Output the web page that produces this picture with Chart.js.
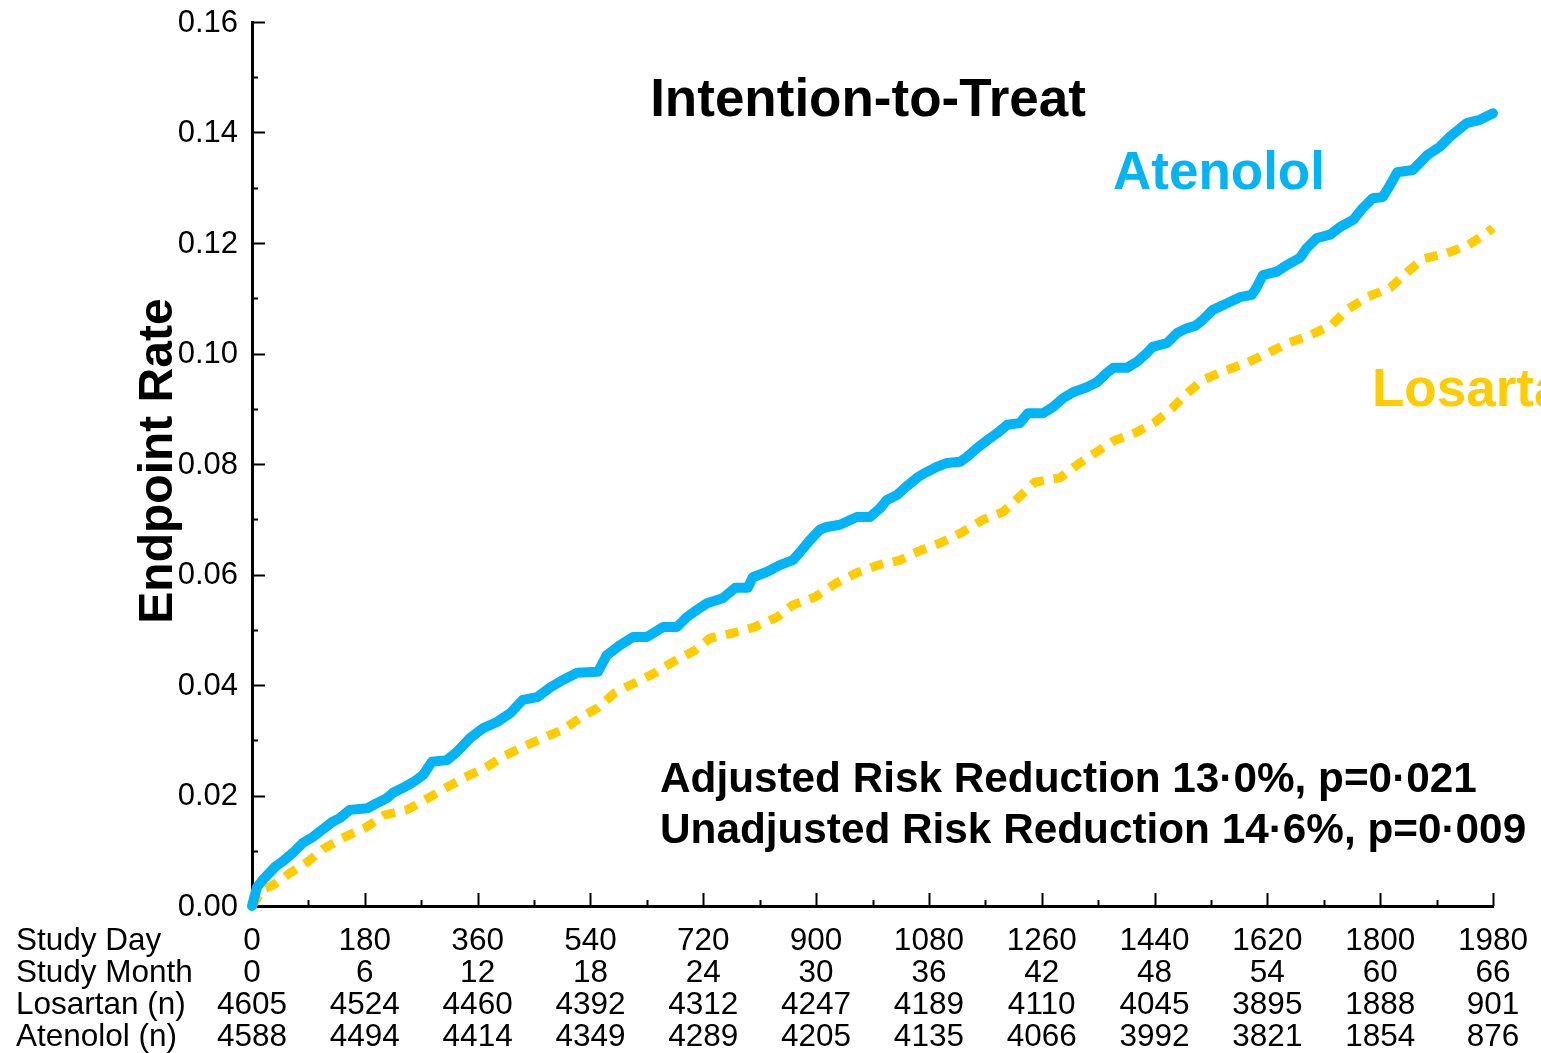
<!DOCTYPE html>
<html>
<head>
<meta charset="utf-8">
<title>Intention-to-Treat</title>
<script src="https://cdn.jsdelivr.net/npm/chart.js@4.4.1/dist/chart.umd.min.js"></script>
<style>
  html, body { margin: 0; padding: 0; background: #fff; }
  #wrap { width: 1541px; height: 1053px; }
</style>
</head>
<body>
<div id="wrap"><canvas id="kmChart" width="1541" height="1053"></canvas></div>
<script>
const FONT = "'Liberation Sans', Arial, Helvetica, sans-serif";
const BLUE = '#00b4f5';
const YELLOW = '#ffcc00';

// Kaplan-Meier curves (study day, cumulative endpoint rate)
const atenololDays = [0, 8, 17, 37, 48, 65, 81, 97, 112, 128, 140, 156, 184, 199, 215, 225, 241, 257, 273, 287,
  311, 327, 348, 369, 391, 412, 432, 455, 475, 496, 519, 552, 566, 587, 608, 630, 656, 678, 694, 710,
  726, 751, 771, 791, 799, 822, 842, 863, 877, 890, 906, 917, 938, 965, 986, 1002, 1013, 1029, 1045, 1061,
  1074, 1093, 1109, 1130, 1141, 1157, 1173, 1189, 1205, 1225, 1238, 1262, 1278, 1294, 1310, 1332, 1348, 1364, 1374, 1396,
  1412, 1428, 1437, 1460, 1476, 1490, 1505, 1517, 1533, 1556, 1576, 1595, 1603, 1613, 1635, 1651, 1672, 1683, 1699, 1720,
  1736, 1757, 1772, 1788, 1804, 1816, 1827, 1852, 1875, 1895, 1911, 1938, 1959, 1980];
const atenololRates = [0, 0.0034, 0.0047, 0.0071, 0.0080, 0.0096, 0.0114, 0.0125, 0.0138, 0.0152, 0.0159, 0.0174, 0.0177, 0.0186, 0.0195, 0.0205, 0.0214, 0.0224, 0.0237, 0.0261,
  0.0264, 0.0279, 0.0304, 0.0322, 0.0333, 0.0349, 0.0373, 0.0378, 0.0395, 0.0409, 0.0422, 0.0424, 0.0454, 0.0472, 0.0487, 0.0487, 0.0505, 0.0505, 0.0523, 0.0536,
  0.0548, 0.0557, 0.0576, 0.0576, 0.0595, 0.0605, 0.0617, 0.0626, 0.0644, 0.0662, 0.0681, 0.0686, 0.0690, 0.0704, 0.0704, 0.0720, 0.0735, 0.0744, 0.0760, 0.0775,
  0.0784, 0.0795, 0.0802, 0.0804, 0.0813, 0.0829, 0.0843, 0.0856, 0.0871, 0.0874, 0.0892, 0.0892, 0.0903, 0.0919, 0.0930, 0.0939, 0.0948, 0.0965, 0.0974, 0.0974,
  0.0985, 0.1001, 0.1012, 0.1019, 0.1037, 0.1045, 0.1050, 0.1061, 0.1079, 0.1091, 0.1102, 0.1106, 0.1120, 0.1142, 0.1148, 0.1160, 0.1173, 0.1191, 0.1209, 0.1215,
  0.1229, 0.1242, 0.1263, 0.1281, 0.1283, 0.1305, 0.1328, 0.1332, 0.1359, 0.1374, 0.1392, 0.1417, 0.1423, 0.1435];

const losartanDays = [0, 17, 34, 61, 89, 113, 148, 180, 212, 247, 279, 311, 340, 372, 400, 432, 464, 496, 523, 552,
  579, 611, 643, 672, 707, 731, 767, 802, 838, 863, 898, 930, 965, 999, 1034, 1067, 1100, 1134, 1166, 1198,
  1222, 1249, 1289, 1316, 1345, 1377, 1412, 1441, 1468, 1493, 1517, 1548, 1587, 1621, 1653, 1688, 1723, 1747, 1779, 1816,
  1844, 1868, 1907, 1940, 1970, 1980];
const losartanRates = [0, 0.0030, 0.0038, 0.0060, 0.0080, 0.0103, 0.0125, 0.0141, 0.0165, 0.0174, 0.0194, 0.0215, 0.0233, 0.0250, 0.0270, 0.0288, 0.0304, 0.0319, 0.0340, 0.0359,
  0.0386, 0.0404, 0.0422, 0.0442, 0.0463, 0.0485, 0.0494, 0.0505, 0.0523, 0.0545, 0.0559, 0.0583, 0.0603, 0.0617, 0.0626, 0.0644, 0.0658, 0.0677, 0.0699, 0.0713,
  0.0738, 0.0767, 0.0775, 0.0798, 0.0820, 0.0843, 0.0858, 0.0876, 0.0901, 0.0929, 0.0952, 0.0967, 0.0983, 0.1001, 0.1019, 0.1033, 0.1052, 0.1079, 0.1102, 0.1119,
  0.1148, 0.1171, 0.1182, 0.1196, 0.1218, 0.1227];

// numbers-at-risk table under the x axis
const rowLabels = ['Study Day', 'Study Month', 'Losartan (n)', 'Atenolol (n)'];
const studyDays = [0, 180, 360, 540, 720, 900, 1080, 1260, 1440, 1620, 1800, 1980];
const studyMonths = [0, 6, 12, 18, 24, 30, 36, 42, 48, 54, 60, 66];
const losartanAtRisk = [4605, 4524, 4460, 4392, 4312, 4247, 4189, 4110, 4045, 3895, 1888, 901];
const atenololAtRisk = [4588, 4494, 4414, 4349, 4289, 4205, 4135, 4066, 3992, 3821, 1854, 876];

const toPoints = (xs, ys) => xs.map((d, i) => ({ x: d, y: ys[i] }));

/* ---- tick marks, titles, table ---- */
const decorPlugin = {
    id: 'decor',
    beforeDatasetsDraw(chart) {
        const { ctx, chartArea, scales: { x, y } } = chart;
        ctx.save();
        ctx.strokeStyle = '#000';
        ctx.lineWidth = 2;
        ctx.beginPath();
        // inward ticks on the y axis, long every 0.02
        y.ticks.forEach((t, i) => {
            const py = Math.round(y.getPixelForValue(t.value)) + 0.5;
            const len = i % 2 === 0 ? 13 : 6;
            ctx.moveTo(chartArea.left, py);
            ctx.lineTo(chartArea.left + len, py);
        });
        // inward ticks on the x axis, long every 180 days
        x.ticks.forEach((t, i) => {
            const px = Math.round(x.getPixelForValue(t.value)) + 0.5;
            const len = i % 2 === 0 ? 13 : 6;
            ctx.moveTo(px, chartArea.bottom);
            ctx.lineTo(px, chartArea.bottom - len);
        });
        ctx.stroke();
        ctx.restore();
    },
    afterDraw(chart) {
        const { ctx, scales: { x } } = chart;
        ctx.save();
        ctx.fillStyle = '#000';

        // y axis title
        ctx.save();
        ctx.translate(172, 461);
        ctx.rotate(-Math.PI / 2);
        ctx.font = `bold 48px ${FONT}`;
        ctx.textAlign = 'center';
        ctx.textBaseline = 'alphabetic';
        ctx.fillText('Endpoint Rate', 0, 0);
        ctx.restore();

        ctx.textBaseline = 'middle';
        ctx.font = `bold 53px ${FONT}`;
        ctx.textAlign = 'center';
        ctx.fillText('Intention-to-Treat', 868, 101);

        ctx.textAlign = 'left';
        ctx.fillStyle = BLUE;
        ctx.fillText('Atenolol', 1113, 174);
        ctx.fillStyle = YELLOW;
        ctx.fillText('Losartan', 1372, 391);

        ctx.fillStyle = '#000';
        ctx.font = `bold 42.3px ${FONT}`;
        ctx.fillText('Adjusted Risk Reduction 13\u00b70%, p=0\u00b7021', 660, 780);
        ctx.fillText('Unadjusted Risk Reduction 14\u00b76%, p=0\u00b7009', 660, 831);

        // at-risk table
        const rows = [studyDays, studyMonths, losartanAtRisk, atenololAtRisk];
        const rowY = [941, 973, 1005, 1037];
        ctx.font = `31.5px ${FONT}`;
        rows.forEach((vals, r) => {
            ctx.textAlign = 'left';
            ctx.fillText(rowLabels[r], 16, rowY[r]);
            ctx.textAlign = 'center';
            vals.forEach((v, i) => {
                ctx.fillText(String(v), x.getPixelForValue(studyDays[i]), rowY[r]);
            });
        });
        ctx.restore();
    }
};

new Chart(document.getElementById('kmChart'), {
    type: 'line',
    data: {
        datasets: [
            {
                label: 'Atenolol',
                data: toPoints(atenololDays, atenololRates),
                borderColor: BLUE,
                borderWidth: 10,
                borderJoinStyle: 'round',
                borderCapStyle: 'round',
                pointRadius: 0,
                tension: 0,
                clip: false,
            },
            {
                label: 'Losartan',
                data: toPoints(losartanDays, losartanRates),
                borderColor: YELLOW,
                borderWidth: 9,
                borderDash: [13, 10],
                borderJoinStyle: 'round',
                pointRadius: 0,
                tension: 0,
                clip: false,
            },
        ],
    },
    options: {
        responsive: false,
        animation: false,
        devicePixelRatio: 1,
        layout: { padding: { top: 22, right: 48, left: 0, bottom: 0 } },
        plugins: {
            legend: { display: false },
            tooltip: { enabled: false },
        },
        scales: {
            x: {
                type: 'linear',
                min: 0,
                max: 1980,
                ticks: { stepSize: 90, display: false },
                grid: { display: false, drawTicks: false },
                border: { display: true, color: '#000', width: 3 },
                afterFit: (s) => {
                    s.height = 147;
                    s.paddingLeft = 0;
                    s.paddingRight = 0;
                },
            },
            y: {
                type: 'linear',
                min: 0,
                max: 0.16,
                ticks: {
                    stepSize: 0.01,
                    maxTicksLimit: 30,
                    padding: 14,
                    labelOffset: 1,
                    color: '#000',
                    font: { family: FONT, size: 31 },
                    callback: (v, i) => (i % 2 === 0 ? v.toFixed(2) : ''),
                },
                grid: { display: false, drawTicks: false },
                border: { display: true, color: '#000', width: 3 },
                afterFit: (s) => {
                    s.width = 252;
                    s.paddingTop = 0;
                    s.paddingBottom = 0;
                },
            },
        },
    },
    plugins: [decorPlugin],
});
</script>
</body>
</html>
